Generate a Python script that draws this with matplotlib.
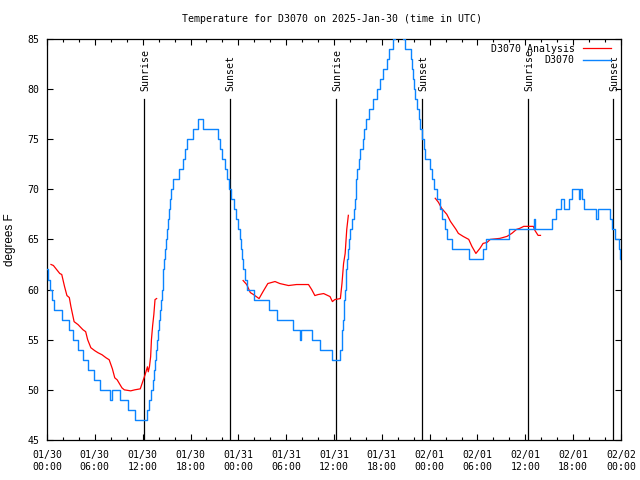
import matplotlib
matplotlib.use("Agg")
import matplotlib.pyplot as plt
from matplotlib.ticker import MultipleLocator, FixedLocator

# ---- data (hours since 2025-01-30 00:00 UTC) ----
obs_hours = [0.0, 0.15, 0.35, 0.6, 0.85, 1.85, 2.7, 3.3, 3.9, 4.55, 5.2, 5.9, 6.65, 7.9, 8.1,
             9.15, 10.1, 11.0, 12.6, 12.85, 13.1, 13.3, 13.45, 13.55, 13.7, 13.8, 13.9, 14.0,
             14.15, 14.25, 14.4, 14.5, 14.6, 14.7, 14.8, 14.95, 15.05, 15.15, 15.25, 15.4,
             15.55, 15.8, 16.6, 17.1, 17.35, 17.6, 18.3, 18.95, 19.55, 21.5, 21.75, 22.0,
             22.3, 22.6, 22.8, 23.1, 23.4, 23.7, 24.0, 24.15, 24.3, 24.45, 24.6, 24.8, 25.1,
             25.95, 27.9, 28.8, 30.8, 31.75, 31.9, 33.3, 34.3, 35.8, 36.8, 36.95, 37.05,
             37.15, 37.25, 37.3, 37.4, 37.5, 37.55, 37.65, 37.75, 37.85, 37.95, 38.2, 38.45,
             38.6, 38.7, 38.8, 38.9, 39.15, 39.3, 39.6, 39.8, 40.0, 40.45, 40.9, 41.35, 41.8,
             42.2, 42.6, 42.95, 43.35, 43.7, 44.7, 44.85, 45.6, 45.8, 45.95, 46.05, 46.2,
             46.4, 46.6, 46.8, 47.0, 47.25, 47.4, 48.0, 48.3, 48.5, 48.9, 49.3, 49.6, 49.9,
             50.15, 50.8, 52.9, 54.7, 55.1, 58.0, 61.1, 61.25, 63.4, 63.9, 64.5, 64.9, 65.5,
             65.9, 66.7, 66.85, 67.1, 67.3, 68.9, 69.15, 70.6, 70.9, 71.2, 71.75, 71.85, 72.0]
obs_temps = [62, 61, 60, 59, 58, 57, 56, 55, 54, 53, 52, 51, 50, 49, 50,
             49, 48, 47, 48, 49, 50, 51, 52, 53, 54, 55, 56, 57,
             58, 59, 60, 61, 62, 63, 64, 65, 66, 67, 68, 69,
             70, 71, 72, 73, 74, 75, 76, 77, 76, 75, 74, 73,
             72, 71, 70, 69, 68, 67, 66, 65, 64, 63, 62, 61, 60,
             59, 58, 57, 56, 55, 56, 55, 54, 53, 54, 55, 56,
             57, 58, 59, 60, 61, 62, 63, 64, 65, 66, 67, 68,
             69, 70, 71, 72, 73, 74, 75, 76, 77, 78, 79, 80, 81,
             82, 83, 84, 85, 86, 85, 84, 83, 82, 81, 80, 79,
             78, 77, 76, 75, 74, 73, 72, 71, 70, 69, 68, 67, 66,
             65, 64, 63, 64, 65, 66, 67, 66, 67, 68, 69, 68, 69,
             70, 69, 70, 69, 68, 67, 68, 67, 66, 65, 64, 63, 63]

ana1_hours = [0.5, 0.8, 1.2, 1.6, 1.85, 2.2, 2.5, 2.8, 3.0, 3.4, 3.9, 4.5, 4.85, 5.1, 5.5,
              6.0, 6.4, 6.9, 7.4, 7.8, 8.2, 8.5, 8.8, 9.4, 9.7, 10.5, 11.0, 11.7, 12.0,
              12.3, 12.6, 12.7, 12.85, 13.0, 13.1, 13.25, 13.4, 13.55, 13.75]
ana1_temps = [62.5, 62.4, 62.0, 61.6, 61.5, 60.3, 59.4, 59.2, 58.3, 56.8, 56.5, 56.0, 55.8,
              55.0, 54.2, 53.9, 53.7, 53.5, 53.2, 53.0, 52.1, 51.2, 51.0, 50.2, 50.0, 49.9,
              50.0, 50.1, 50.8, 51.5, 52.3, 51.8, 52.3, 53.3, 55.0, 56.4, 57.5, 59.0, 59.1]

ana2_hours = [24.6, 25.05, 25.5, 25.9, 26.6, 27.1, 27.7, 28.6, 29.2, 30.3, 31.3, 32.8, 33.2,
              33.6, 34.0, 34.7, 35.5, 35.8, 36.1, 36.8, 37.0, 37.2, 37.4, 37.6, 37.8]
ana2_temps = [60.9, 60.5, 59.7, 59.5, 59.1, 59.8, 60.6, 60.8, 60.6, 60.4, 60.5, 60.5, 60.0,
              59.4, 59.5, 59.6, 59.3, 58.8, 59.0, 59.1, 60.6, 62.6, 63.6, 66.0, 67.4]

ana3_hours = [48.7, 49.1, 49.5, 50.15, 50.6, 51.3, 51.6, 52.2, 52.9, 53.3, 53.8, 54.3, 54.7,
              55.2, 55.6, 56.8, 57.7, 58.3, 58.9, 59.3, 59.8, 61.0, 61.2, 61.6, 61.9]
ana3_temps = [69.1, 68.7, 68.1, 67.5, 66.8, 66.0, 65.6, 65.3, 65.0, 64.3, 63.6, 64.1, 64.6,
              64.7, 65.0, 65.1, 65.3, 65.6, 66.0, 66.1, 66.3, 66.3, 65.9, 65.4, 65.4]

sun_hours = [12.15, 22.9, 36.3, 47.0, 60.3, 71.05]
sun_labels = ["Sunrise", "Sunset", "Sunrise", "Sunset", "Sunrise", "Sunset"]

xtick_hours = [0, 6, 12, 18, 24, 30, 36, 42, 48, 54, 60, 66, 72]
xtick_labels = ["01/30\n00:00", "01/30\n06:00", "01/30\n12:00", "01/30\n18:00",
                "01/31\n00:00", "01/31\n06:00", "01/31\n12:00", "01/31\n18:00",
                "02/01\n00:00", "02/01\n06:00", "02/01\n12:00", "02/01\n18:00",
                "02/02\n00:00"]
ytick_vals = [45, 50, 55, 60, 65, 70, 75, 80, 85]

title = "Temperature for D3070 on 2025-Jan-30 (time in UTC)"

# ---- plot ----
mono = "DejaVu Sans Mono"
fs = 7.1
RED = "#ff0000"
BLUE = "#0a84ff"

fig = plt.figure(figsize=(6.4, 4.8), dpi=100)
ax = fig.add_axes([47 / 640, 40 / 480, (621 - 47) / 640, (440.5 - 39.3) / 480])

for h, lab in zip(sun_hours, sun_labels):
    ax.plot([h, h], [45, 79.0], color="black", lw=0.9, zorder=2)
    ax.text(h + 0.15, 79.8, lab, rotation=90, ha="center", va="bottom",
            family=mono, fontsize=fs, zorder=3)

ax.plot(ana1_hours, ana1_temps, color=RED, lw=0.9, label="D3070 Analysis", zorder=4)
ax.plot(ana2_hours, ana2_temps, color=RED, lw=0.9, zorder=4)
ax.plot(ana3_hours, ana3_temps, color=RED, lw=0.9, zorder=4)
ax.plot(obs_hours, obs_temps, color=BLUE, lw=1.0, drawstyle="steps-post",
        label="D3070", zorder=5)

ax.set_xlim(0, 72)
ax.set_ylim(45, 85)
ax.xaxis.set_major_locator(FixedLocator(xtick_hours))
ax.set_xticklabels(xtick_labels)
ax.xaxis.set_minor_locator(MultipleLocator(2))
ax.set_yticks(ytick_vals)
ax.set_yticklabels([str(v) for v in ytick_vals])

ax.tick_params(which="major", direction="in", length=4.5, width=0.8,
               top=True, right=True, labelsize=fs, pad=5.5)
ax.tick_params(axis="x", which="major", pad=7.5)
ax.tick_params(which="minor", direction="in", length=2.5, width=0.8,
               top=True, right=False, left=False)
for lbl in ax.get_xticklabels() + ax.get_yticklabels():
    lbl.set_family(mono)
for s in ax.spines.values():
    s.set_linewidth(0.9)

leg = ax.legend(loc="upper right", frameon=False, markerfirst=False,
                prop={"family": mono, "size": fs}, handlelength=2.9,
                handletextpad=0.8, labelspacing=0.12, borderaxespad=0.0,
                bbox_to_anchor=(0.99, 0.997))

fig.text(332 / 640, 1 - 19 / 480, title, ha="center", va="center",
         family=mono, fontsize=fs)
fig.text(10 / 640, 0.5, "degrees F", rotation=90, ha="center", va="center",
         family="Liberation Sans", fontsize=8.5)

fig.savefig("out.png", dpi=100)
